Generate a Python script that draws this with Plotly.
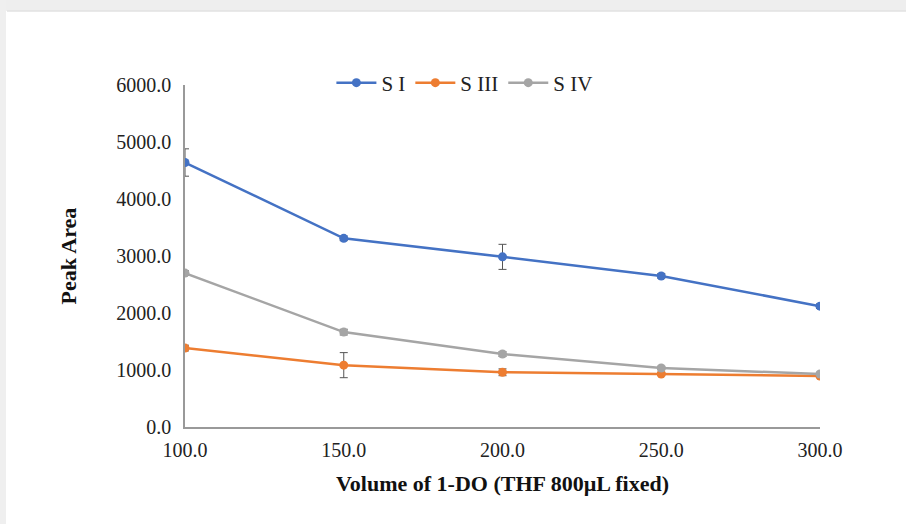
import plotly.graph_objects as go

volumes = [100, 150, 200, 250, 300]
s1 = [4640, 3310, 2985, 2650, 2120]
s1_err = [240, 40, 220, 40, 40]
s3 = [1385, 1085, 960, 930, 895]
s3_err = [50, 220, 60, 30, 30]
s4 = [2700, 1665, 1280, 1035, 930]
s4_err = [40, 50, 40, 30, 30]

series = [("S I", s1, s1_err, "#4472C4"),
          ("S III", s3, s3_err, "#ED7D31"),
          ("S IV", s4, s4_err, "#A5A5A5")]

fig = go.Figure()
for name, vals, errs, col in series:
    fig.add_trace(go.Scatter(
        x=volumes, y=vals, name=name, mode="lines+markers",
        line=dict(color=col, width=2.5),
        marker=dict(color=col, size=9),
        error_y=dict(type="data", array=errs, visible=True,
                     color="#555555", thickness=1, width=4),
    ))

L, R, T, B = 185, 86, 85, 97
W, H = 906, 524
pw, ph = W - L - R, H - T - B

def px(x):
    return (x - L) / pw

def py(y):
    return (H - B - y) / ph

fig.add_shape(type="rect", xref="paper", yref="paper", layer="below",
              x0=px(0), x1=px(W), y0=py(11), y1=py(0),
              fillcolor="#eeeeee", line=dict(width=0))
fig.add_shape(type="line", xref="paper", yref="paper", layer="below",
              x0=px(7), x1=px(W), y0=py(11), y1=py(11),
              line=dict(color="#e2e2e2", width=1.5))
fig.add_shape(type="rect", xref="paper", yref="paper", layer="below",
              x0=px(0), x1=px(6), y0=py(H), y1=py(0),
              fillcolor="#efefef", line=dict(width=0))

font_family = "Liberation Serif, Times New Roman, serif"
fig.update_layout(
    width=W, height=H,
    margin=dict(l=L, r=R, t=T, b=B),
    paper_bgcolor="white", plot_bgcolor="white",
    font=dict(family=font_family, size=20, color="#222222"),
    showlegend=True,
    legend=dict(orientation="h", x=0.44, xanchor="center", y=py(83), yanchor="middle",
                font=dict(size=21, family=font_family, color="#222222"),
                bgcolor="rgba(0,0,0,0)", itemwidth=40, tracegroupgap=0),
    xaxis=dict(range=[100, 300], tickvals=volumes,
               ticktext=[f"{v:.1f}" for v in volumes],
               showgrid=False, zeroline=False, showline=True,
               linecolor="#999999", linewidth=1.5, ticks="",
               tickfont=dict(size=20, family=font_family, color="#222222"),
               ticklabelstandoff=4,
               title=dict(text="<b>Volume of 1-DO (THF 800µL fixed)</b>",
                          font=dict(size=22, family=font_family, color="#111111"),
                          standoff=16)),
    yaxis=dict(range=[0, 6000], tickvals=[0, 1000, 2000, 3000, 4000, 5000, 6000],
               ticktext=[f"{v:.1f}" for v in [0, 1000, 2000, 3000, 4000, 5000, 6000]],
               showgrid=False, zeroline=False, showline=True,
               linecolor="#999999", linewidth=1.5, ticks="",
               tickfont=dict(size=20, family=font_family, color="#222222"),
               ticklabelstandoff=8,
               title=dict(text="<b>Peak Area</b>",
                          font=dict(size=22, family=font_family, color="#111111"),
                          standoff=34)),
)

fig.write_html("out.html")
